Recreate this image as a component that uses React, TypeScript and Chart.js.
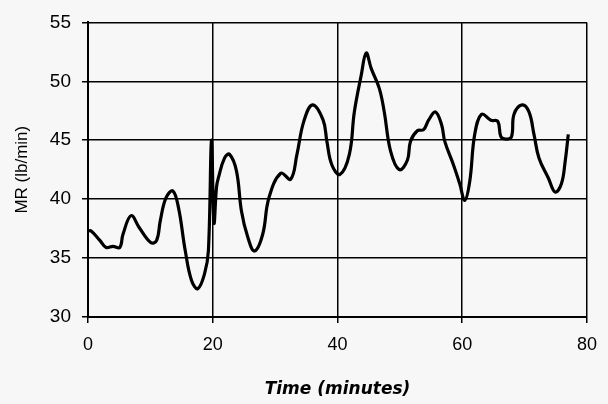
import React, { useEffect, useRef } from "react";
import { Chart, registerables } from "chart.js";

Chart.register(...registerables);

const timeMin = [0, 0.5, 1.9, 2.9, 4.0, 5.1, 5.6, 6.9, 8.2, 10.1, 11.0, 11.6, 12.5, 13.6, 14.5, 15.6, 16.6, 17.6, 18.7, 19.3, 19.8, 20.2, 20.6, 20.9, 21.9, 22.7, 23.8, 24.6, 25.6, 26.7, 28.0, 29.0, 30.9, 32.5, 33.5, 34.6, 36.0, 37.7, 38.3, 39.1, 40.4, 41.9, 42.7, 43.8, 44.6, 45.4, 46.7, 47.5, 48.5, 49.9, 51.2, 51.7, 52.8, 53.8, 54.6, 55.7, 56.7, 57.2, 58.6, 59.6, 60.4, 61.2, 62.0, 63.1, 64.6, 65.7, 66.2, 67.0, 67.9, 68.3, 69.6, 70.7, 71.5, 72.3, 73.8, 74.9, 75.9, 76.5, 77.0];
const mrValues = [37.3, 37.3, 36.5, 35.9, 36.0, 35.9, 37.0, 38.6, 37.6, 36.3, 36.5, 38.2, 40.1, 40.7, 39.3, 35.6, 33.1, 32.4, 33.7, 35.6, 45.0, 38.0, 41.0, 41.8, 43.5, 43.8, 42.4, 39.0, 36.8, 35.6, 37.0, 40.1, 42.2, 41.7, 43.8, 46.6, 48.0, 46.7, 44.9, 42.9, 42.1, 43.8, 47.4, 50.5, 52.4, 51.1, 49.4, 47.4, 44.1, 42.5, 43.3, 44.9, 45.8, 45.9, 46.7, 47.4, 46.3, 44.9, 42.9, 41.3, 39.9, 41.5, 45.5, 47.2, 46.7, 46.6, 45.3, 45.1, 45.3, 47.2, 48.0, 47.4, 45.5, 43.5, 41.8, 40.6, 41.3, 43.2, 45.5];

const xTicks = [0, 20, 40, 60, 80];
const yTicks = [30, 35, 40, 45, 50, 55];
const xTitle = "Time (minutes)";
const yTitle = "MR (lb/min)";

export default function App() {
  const ref = useRef<HTMLCanvasElement>(null);
  useEffect(() => {
    document.body.style.margin = "0";
    const bg = {
      id: "bg",
      beforeDraw(c: any) {
        const ctx = c.ctx;
        ctx.save();
        ctx.fillStyle = "#f7f7f7";
        ctx.fillRect(0, 0, c.width, c.height);
        ctx.restore();
      },
    };
    const chart = new Chart(ref.current!, {
      type: "line",
      data: {
        datasets: [
          {
            data: timeMin.map((t, i) => ({ x: t, y: mrValues[i] })),
            borderColor: "#000",
            borderWidth: 3.2,
            pointRadius: 0,
            tension: 0.4,
            fill: false,
          },
        ],
      },
      options: {
        animation: false,
        responsive: false,
        layout: { padding: { top: 20, right: 14, left: 0, bottom: 0 } },
        plugins: { legend: { display: false }, tooltip: { enabled: false } },
        scales: {
          x: {
            type: "linear",
            min: 0,
            max: 80,
            afterBuildTicks: (s: any) => {
              s.ticks = xTicks.map((v) => ({ value: v }));
            },
            afterFit: (s: any) => {
              s.height = 87;
            },
            ticks: {
              color: "#000",
              padding: 11,
              font: { family: "Liberation Sans", size: 18 },
            },
            grid: { color: "#000", lineWidth: 1.5, tickLength: 6 },
            border: { color: "#000", width: 2 },
            title: {
              display: true,
              text: xTitle,
              color: "#000",
              font: { family: "DejaVu Sans", size: 17, weight: "bold", style: "italic" },
              padding: { top: 12 },
            },
          },
          y: {
            type: "linear",
            min: 30,
            max: 55,
            afterBuildTicks: (s: any) => {
              s.ticks = yTicks.map((v) => ({ value: v }));
            },
            afterFit: (s: any) => {
              s.width = 88;
            },
            ticks: {
              color: "#000",
              padding: 11,
              font: { family: "Liberation Sans", size: 19 },
            },
            grid: { color: "#000", lineWidth: 1.5, tickLength: 6 },
            border: { color: "#000", width: 2 },
            title: {
              display: true,
              text: yTitle,
              color: "#000",
              font: { family: "Liberation Sans", size: 17 },
              padding: { top: 12, bottom: 4 },
            },
          },
        },
      },
      plugins: [bg],
    });
    return () => chart.destroy();
  }, []);
  return (
    <div style={{ width: 608, height: 404 }}>
      <canvas ref={ref} width={608} height={404} style={{ display: "block" }} />
    </div>
  );
}
